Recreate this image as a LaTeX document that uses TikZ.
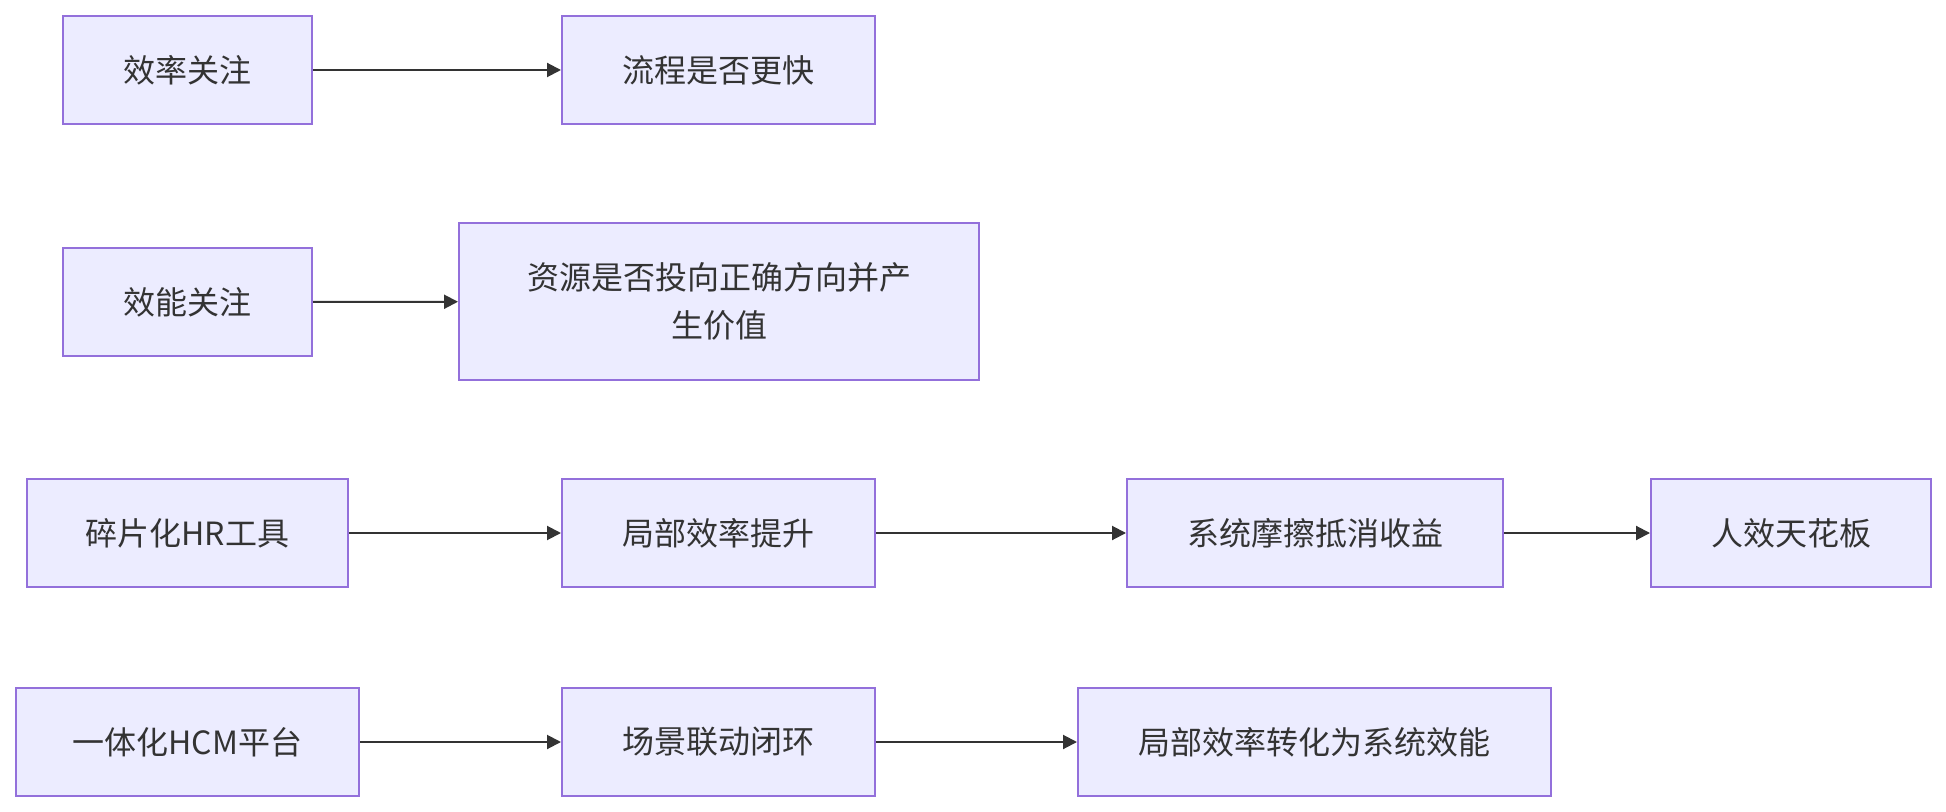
\documentclass[tikz,border=0pt]{standalone}
\usepackage{fontspec}
\setmainfont{Noto Sans CJK SC}
\usetikzlibrary{arrows.meta}
\definecolor{BoxFill}{HTML}{ECECFF}
\definecolor{BoxLine}{HTML}{9370DB}
\definecolor{InkGray}{HTML}{333333}

\begin{document}
\begin{tikzpicture}[x=0.5pt, y=-0.5pt,
        box/.style={draw=BoxLine, fill=BoxFill, line width=1pt, inner sep=0pt,
                    minimum height=54pt, align=center, text=InkGray,
                    font=\fontsize{16pt}{24pt}\selectfont},
        arrow/.style={-{Triangle[length=7pt, width=7pt]}, line width=1pt, InkGray}]

        \useasboundingbox (0, 0) rectangle (1946, 812);

        % Row 1: efficiency
        \node[box, minimum width=124.5pt] (effi) at (187.5, 70) {效率关注};
        \node[box, minimum width=156.5pt] (fast) at (718.5, 70) {流程是否更快};
        \draw[arrow] (effi) -- (fast);

        % Row 2: effectiveness
        \node[box, minimum width=124.5pt] (effe) at (187.5, 302) {效能关注};
        \node[box, minimum width=260pt, minimum height=78.5pt] (value) at (719, 301.5)
            {资源是否投向正确方向并产\\生价值};
        \draw[arrow] (effe) -- (value);

        % Row 3: fragmented tools
        \node[box, minimum width=160.5pt] (frag) at (187.5, 533) {碎片化HR工具};
        \node[box, minimum width=156.5pt] (local) at (718.5, 533) {局部效率提升};
        \node[box, minimum width=188pt] (fric) at (1315, 533) {系统摩擦抵消收益};
        \node[box, minimum width=140pt] (ceil) at (1791, 533) {人效天花板};
        \draw[arrow] (frag) -- (local);
        \draw[arrow] (local) -- (fric);
        \draw[arrow] (fric) -- (ceil);

        % Row 4: integrated platform
        \node[box, minimum width=171.5pt] (hcm) at (187.5, 742) {一体化HCM平台};
        \node[box, minimum width=156.5pt] (loop) at (718.5, 742) {场景联动闭环};
        \node[box, minimum width=236.5pt] (sys) at (1314.5, 742) {局部效率转化为系统效能};
        \draw[arrow] (hcm) -- (loop);
        \draw[arrow] (loop) -- (sys);
    \end{tikzpicture}
\end{document}
